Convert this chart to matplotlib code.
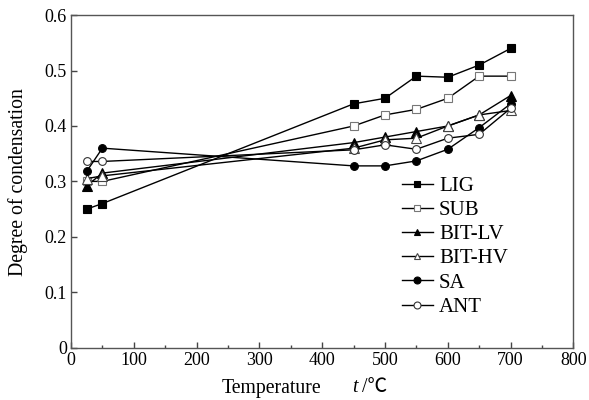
import matplotlib
matplotlib.use("Agg")
import matplotlib.pyplot as plt

plt.rcParams["font.family"] = ["Liberation Serif", "Noto Sans CJK SC", "DejaVu Sans"]
plt.rcParams["font.size"] = 13

TEMPS = [25, 50, 450, 500, 550, 600, 650, 700]
LIG = [0.25, 0.26, 0.44, 0.45, 0.49, 0.488, 0.51, 0.54]
SUB = [0.30, 0.30, 0.40, 0.42, 0.43, 0.45, 0.49, 0.49]
BIT_LV = [0.292, 0.315, 0.37, 0.38, 0.39, 0.40, 0.42, 0.455]
BIT_HV = [0.305, 0.31, 0.36, 0.375, 0.378, 0.40, 0.42, 0.428]
SA = [0.318, 0.36, 0.328, 0.328, 0.337, 0.358, 0.397, 0.44]
ANT = [0.336, 0.336, 0.357, 0.366, 0.358, 0.378, 0.385, 0.432]

SERIES = [
    ("LIG", LIG, "s", "black", "black"),
    ("SUB", SUB, "s", "white", "#777777"),
    ("BIT-LV", BIT_LV, "^", "black", "black"),
    ("BIT-HV", BIT_HV, "^", "white", "#444444"),
    ("SA", SA, "o", "black", "black"),
    ("ANT", ANT, "o", "white", "#333333"),
]

fig = plt.figure(figsize=(5.89, 4.0), dpi=100)
ax = fig.add_axes([0.1205, 0.131, 0.853, 0.831])

for name, vals, mk, fc, ec in SERIES:
    ax.plot(TEMPS, vals, color="black", lw=1.0, marker=mk,
            markersize=6.5 if mk == "^" else 5.6, markerfacecolor=fc,
            markeredgecolor=ec, markeredgewidth=0.8, label=name)

ax.set_xlim(0, 800)
ax.set_ylim(0, 0.6)
ax.set_xticks(range(0, 801, 100))
ax.set_xticks(range(50, 800, 100), minor=True)
ax.set_yticks([0, 0.1, 0.2, 0.3, 0.4, 0.5, 0.6])
ax.set_yticklabels(["0", "0.1", "0.2", "0.3", "0.4", "0.5", "0.6"])
ax.tick_params(direction="in", length=4, width=1, color="#444444",
               top=False, right=False, pad=3)
ax.tick_params(which="minor", direction="in", length=2.5, width=1,
               color="#444444", top=False, right=False)
for sp in ax.spines.values():
    sp.set_color("#555555")
    sp.set_linewidth(1.0)

leg = ax.legend(loc="upper left", bbox_to_anchor=(0.658, 0.515), frameon=False,
                handlelength=1.5, handletextpad=0.3, labelspacing=0.22,
                borderaxespad=0, borderpad=0, fontsize=15)
for h in leg.legend_handles:
    h.set_markersize(5)

fig.text(0.03, 0.545, "Degree of condensation", rotation=90,
         ha="center", va="center", fontsize=14.2)
fig.text(0.46, 0.03, "Temperature", ha="center", va="center", fontsize=14.2)
fig.text(0.598, 0.03, "t", style="italic", ha="left", va="center",
         fontsize=14.2)
fig.text(0.614, 0.03, "/℃", ha="left", va="center", fontsize=14.2)

fig.savefig("out.png", dpi=100)
